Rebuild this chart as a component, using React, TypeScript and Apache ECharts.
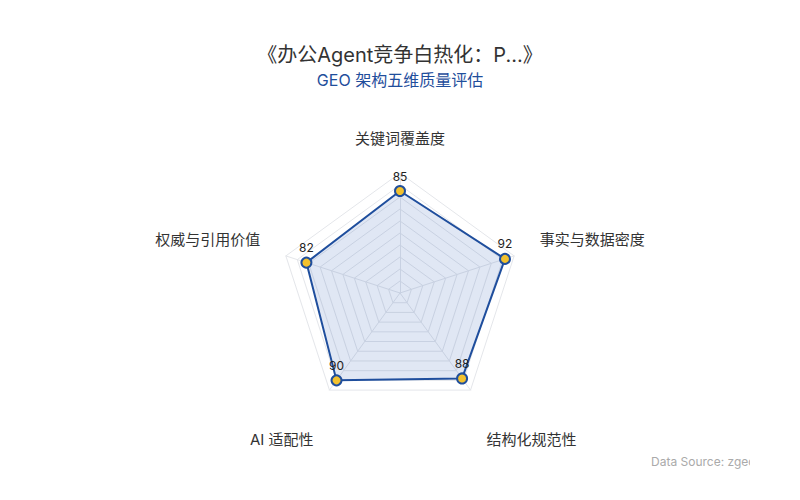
import { useEffect, useRef } from "react";
import * as echarts from "echarts";

const titleText = "《办公Agent竞争白热化：P...》";
const subtitleText = "GEO 架构五维质量评估";
const sourceText = "Data Source: zgeo";

// listed counter-clockwise from the top, the way ECharts lays radar axes out
const indicatorNames = ["关键词覆盖度", "权威与引用价值", "AI 适配性", "结构化规范性", "事实与数据密度"];
const indicatorMax = [100, 100, 100, 100, 100];
const scoreValues = [85, 82, 90, 88, 92];

// where each axis name sits: top, side or bottom of the pentagon
const namePlaces = ["top", "side", "bottom", "bottom", "side"];

const FONT = "Inter, 'Noto Sans CJK SC', sans-serif";

export default function App() {
  const containerRef = useRef<HTMLDivElement>(null);

  useEffect(() => {
    const container = containerRef.current;
    if (!container) return;
    const chart = echarts.init(container, undefined, { renderer: "svg" });

    const option: echarts.EChartsOption = {
      animation: false,
      backgroundColor: "#ffffff",
      textStyle: { fontFamily: FONT },
      title: {
        text: titleText,
        subtext: subtitleText,
        left: "center",
        top: 40,
        itemGap: 7,
        textStyle: { fontSize: 20, fontWeight: "normal", color: "#333333", fontFamily: FONT },
        subtextStyle: { fontSize: 16, color: "#1f4e9c", fontFamily: FONT },
      },
      radar: {
        center: [400, 293],
        radius: 120,
        shape: "polygon",
        splitNumber: 10,
        nameGap: 27,
        indicator: indicatorNames.map((name, i) => ({ name, max: indicatorMax[i], min: 0 })),
        axisName: {
          color: "#333333",
          fontSize: 15,
          fontFamily: FONT,
          formatter: (name?: string) => {
            const place = namePlaces[indicatorNames.indexOf(name ?? "")];
            if (place === "side") return `{s|${name}}`;
            if (place === "bottom") return `{b|${name}}`;
            return name ?? "";
          },
          rich: {
            s: { color: "#333333", fontSize: 15, fontFamily: FONT, padding: [0, 0, 16, 0] },
            b: { color: "#333333", fontSize: 15, fontFamily: FONT, padding: [56, 0, 0, 0] },
          },
        },
        splitArea: { show: false },
        splitLine: { lineStyle: { color: "#e4e6ea", width: 1 } },
        axisLine: { lineStyle: { color: "#e4e6ea", width: 1 } },
      },
      graphic: [
        {
          type: "text",
          left: 651,
          top: 455,
          z: 10,
          style: { text: sourceText, fill: "#aaaaaa", fontSize: 12, fontFamily: FONT },
        },
        {
          type: "rect",
          left: 750,
          top: 450,
          z: 11,
          shape: { width: 50, height: 25 },
          style: { fill: "#ffffff" },
        },
      ],
      series: [
        {
          type: "radar",
          symbol: "circle",
          symbolSize: 10,
          data: [
            {
              value: scoreValues,
              name: subtitleText,
              itemStyle: { color: "#f2c12e", borderColor: "#1f4e9c", borderWidth: 2 },
              lineStyle: { color: "#1f4e9c", width: 2 },
              areaStyle: { color: "rgba(37, 84, 180, 0.2)" },
              label: {
                show: true,
                position: "top",
                distance: 3,
                color: "#222222",
                fontSize: 12,
                fontFamily: FONT,
              },
            },
          ],
        },
      ],
    };

    chart.setOption(option);
    return () => chart.dispose();
  }, []);

  return (
    <div
      ref={containerRef}
      style={{ position: "absolute", left: 0, top: 0, width: 800, height: 500 }}
    />
  );
}
